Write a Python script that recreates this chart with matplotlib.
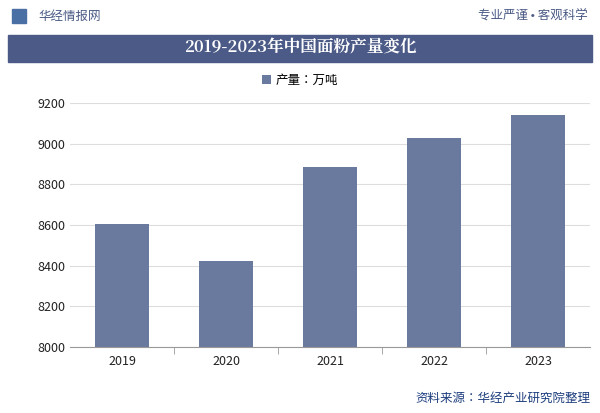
import matplotlib
matplotlib.use("Agg")
import matplotlib.pyplot as plt
from matplotlib import font_manager as fm
import glob

for f in glob.glob("/usr/share/fonts/**/*CJK*", recursive=True) + glob.glob("/usr/local/share/fonts/**/*CJK*", recursive=True):
    try:
        fm.fontManager.addfont(f)
    except Exception:
        pass
names = sorted(set(f.name for f in fm.fontManager.ttflist if "CJK" in f.name))
sans = [n for n in names if "Sans" in n]
serif = [n for n in names if "Serif" in n]
sans_fam = "Noto Sans CJK SC" if "Noto Sans CJK SC" in sans else (sans[0] if sans else (names[0] if names else "DejaVu Sans"))
serif_fam = "Noto Serif CJK SC" if "Noto Serif CJK SC" in serif else (serif[0] if serif else sans_fam)
plt.rcParams["font.family"] = [sans_fam, "DejaVu Sans"]

years = ["2019", "2020", "2021", "2022", "2023"]
output = [8605, 8425, 8887, 9030, 9142]
series_name = "产量：万吨"
title = "2019-2023年中国面粉产量变化"

fig = plt.figure(figsize=(6, 4.13), dpi=100)
W, H = 600, 413
def fx(x): return x / W
def fy(y): return 1 - y / H

fig.text(fx(38), fy(16), "华经情报网", fontsize=9, color="#4a5a85", va="center")
fig.patches.append(plt.Rectangle((fx(12), fy(23)), 14/W, 14/H, transform=fig.transFigure, color="#4a6fa5"))
fig.text(fx(588), fy(16), "专业严谨 • 客观科学", fontsize=9, color="#4a5a85", va="center", ha="right")
fig.patches.append(plt.Rectangle((fx(8), fy(62)), 584/W, 27/H, transform=fig.transFigure, color="#4b5a86"))
fig.text(0.5, fy(48), title, fontsize=12, color="white", ha="center", va="center", fontweight="bold",
         family=[serif_fam, "DejaVu Serif"])

ax = fig.add_axes([fx(70), fy(347), 520/W, 244/H])
bars = ax.bar(years, output, width=0.52, color="#6a7a9f", label=series_name)
ax.set_ylim(8000, 9200)
ax.set_yticks(range(8000, 9201, 200))
ax.grid(axis="y", color="#dddddd", lw=0.8)
ax.set_axisbelow(True)
for s in ["top", "right", "left"]:
    ax.spines[s].set_visible(False)
ax.spines["bottom"].set_color("#999999")
ax.tick_params(axis="y", length=0, labelsize=9, colors="#222222")
ax.tick_params(axis="x", length=0, labelsize=9, colors="#222222", pad=6)
ax.set_xticks([0.5, 1.5, 2.5, 3.5], minor=True)
ax.tick_params(axis="x", which="minor", length=5, color="#999999")
ax.set_xlim(-0.5, 4.5)
fig.legend(handles=[bars], labels=[series_name], loc="center", bbox_to_anchor=(0.5, fy(80)),
           frameon=False, fontsize=9, handlelength=0.7, handleheight=0.7, handletextpad=0.4)

fig.text(fx(590), fy(398), "资料来源：华经产业研究院整理", fontsize=9, color="#1f3f7f", ha="right", va="center")
fig.savefig("out.png", dpi=100)
